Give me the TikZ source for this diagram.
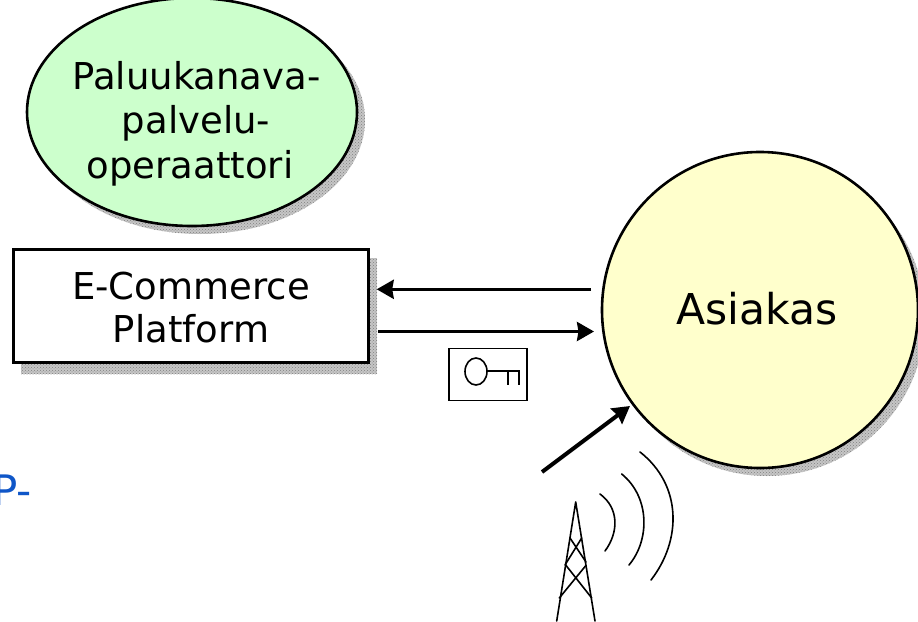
\documentclass[tikz,border=0pt]{standalone}
\usepackage{fontspec}
\setmainfont{DejaVu Sans}
\usetikzlibrary{arrows.meta,shapes.geometric,patterns}
\definecolor{ovalgreen}{HTML}{CCFFCC}
\definecolor{circyellow}{HTML}{FFFFCC}
\definecolor{bluefrag}{HTML}{0F56C8}
\tikzset{
  x=1pt,y=-1pt,
  shadowfill/.style={fill=gray!45,draw=none,postaction={pattern=crosshatch dots,pattern color=gray}},
  shape outline/.style={draw=black,line width=2.6pt},
  lab/.style={font=\fontsize{37}{43}\selectfont,align=center,text=black,inner sep=0pt},
  conn/.style={line width=3.3pt,-{Stealth[length=17pt,width=19pt,inset=1.5pt]}},
  thin line/.style={line width=1.6pt,line cap=round},
}
\begin{document}
\begin{tikzpicture}
\useasboundingbox (0,0) rectangle (918,621);
\clip (0,0) rectangle (918,621);
\fill[white] (0,0) rectangle (918,621);
% shadows
\path[shadowfill] (200,120) ellipse [x radius=165,y radius=114];
\path[shadowfill] (21,258) rectangle (377,374);
\path[shadowfill] (767,318) circle [radius=158];
% shapes
\node[shape outline,fill=ovalgreen,ellipse,minimum width=330pt,minimum height=228pt,inner sep=0pt] (oval) at (192,112) {};
\node[shape outline,fill=white,rectangle,minimum width=355pt,minimum height=113pt,inner sep=0pt] (box) at (191,306) {};
\node[shape outline,fill=circyellow,circle,minimum size=316pt,inner sep=0pt] (cust) at (760,310) {};
% labels
\node[lab,font=\fontsize{37}{44.5}\selectfont] (ovaltext) at (190,123.5) {\hspace{13pt}Paluukanava-\\\hspace{12pt}palvelu-\\operaattori};
\node[lab] (boxtext) at (191,308) {E-Commerce\\Platform};
\node[lab,font=\fontsize{42.5}{48}\selectfont] (custtext) at (757,309) {Asiakas};
\node[anchor=base west,inner sep=0pt,text=bluefrag,font=\fontsize{42}{48}\selectfont] (frag) at (-8,505.5) {P-};
% connector ends
\coordinate (a1) at (591,289.3);
\coordinate (a2) at (376.7,289.3);
\coordinate (b1) at (378,331.5);
\coordinate (b2) at (594,331.5);
\coordinate (c1) at (542,472);
\coordinate (c2) at (630,406);
\draw[conn] (a1) -- (a2);
\draw[conn] (b1) -- (b2);
\draw[conn,line width=4pt] (c1) -- (c2);
% key
\node[draw=black,line width=1.8pt,minimum width=78pt,minimum height=52pt,inner sep=0pt] (keybox) at (488.3,374.5) {};
\draw[line width=1.6pt] (476,371.5) ellipse [x radius=11,y radius=13.5];
\draw[line width=1.6pt] (487,371) -- (519,371) -- (519,385) (508,371) -- (508,385);
% waves
\draw[thin line] (600,494) .. controls (619,508) and (619,532) .. (605,551);
\draw[thin line] (621.7,474) .. controls (650,497) and (650,540) .. (629,565);
\draw[thin line] (640,452) .. controls (682,485) and (682,540) .. (651,580);
% tower
\draw[thin line] (575.7,502) -- (556.7,621) (575.7,502) -- (595,621);
\draw[thin line] (570,538) -- (586,562) (581.7,538) -- (565,565);
\draw[thin line] (565.7,565) -- (591.7,598) (585.7,565.7) -- (559.3,598);
\end{tikzpicture}
\end{document}
